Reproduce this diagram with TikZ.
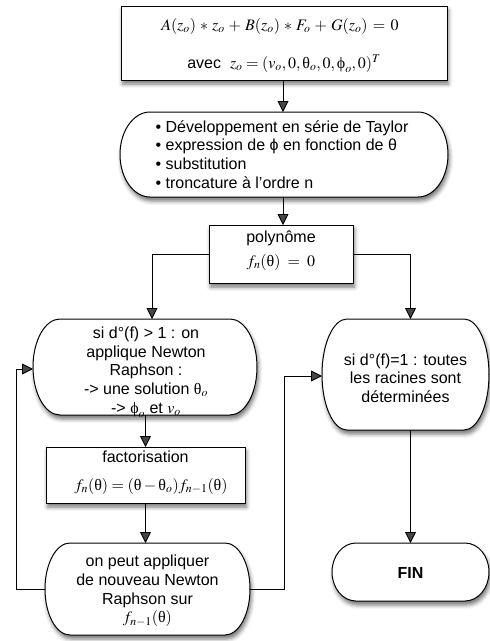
\documentclass[tikz,border=0pt]{standalone}
\usepackage{mathptmx}
\usepackage[no-math]{fontspec}
\setmainfont{Liberation Sans}
\newfontfamily\grk{Liberation Serif}
\usetikzlibrary{arrows.meta,shadows.blur,calc}
\newcommand\gth{\mathord{\hbox{\grk θ}}}
\newcommand\gph{\mathord{\hbox{\grk ϕ}}}
\newcommand\stadium[6]{%
  \path[shp] (#1+#5,#2) -- (#3-#5,#2)
    arc[start angle=90,end angle=-90,x radius=#5pt,y radius=#6pt]
    -- (#1+#5,#4)
    arc[start angle=270,end angle=90,x radius=#5pt,y radius=#6pt] -- cycle;}
\begin{document}
\begin{tikzpicture}[x=1pt,y=-1pt,
  shp/.style={draw=black, line width=1pt, fill=white,
    blur shadow={shadow xshift=1.5pt, shadow yshift=-4pt, shadow blur radius=4pt, shadow opacity=55}},
  lbl/.style={font=\fontsize{16}{18.7}\selectfont, align=center, inner sep=0pt, outer sep=0pt},
  bl/.style={lbl, anchor=base},
  area/.style={inner sep=0pt, outer sep=0pt},
  arr/.style={-{Triangle[length=11pt,width=11pt]}, line width=0.9pt}]
\useasboundingbox (0,0) rectangle (490,641);

% top box
\node[shp, area, minimum width=326pt, minimum height=74pt] (top) at (284,43) {};
\node[bl] (topA) at (280,30) {$A(z_o)\,*\,z_o\,+\,B(z_o)\,*\,F_o\,+\,G(z_o)\,=\,0$};
\node[bl] (topB) at (284,68) {avec~~$z_o=(v_o,0,\gth_o,0,\gph_o,0)^T$};

% development
\stadium{120}{112}{448}{197}{30}{42.5}
\node[area, minimum width=328pt, minimum height=85pt] (dev) at (284,154.5) {};
\node[lbl, align=left] (devt) at (282,154.5)
  {\textbullet\ Développement en série de Taylor\\
   \textbullet\ expression de ϕ en fonction de θ\\
   \textbullet\ substitution\\
   \textbullet\ troncature à l'ordre n};

% polynome
\node[shp, area, minimum width=144pt, minimum height=58pt] (poly) at (281,254) {};
\node[bl] (polyA) at (281,242) {polynôme};
\node[bl] (polyB) at (281,266) {$f_n(\gth)\;=\;0$};

% left node
\stadium{33}{319}{257}{415}{27}{48}
\node[area, minimum width=224pt, minimum height=96pt] (left) at (145,367) {};
\node[lbl] (leftt) at (146,372)
  {si d°(f) > 1 : on\\applique Newton\\Raphson :\\-> une solution $\gth_o$\\-> $\gph_o$ et $v_o$};

% right node
\stadium{322}{319}{489}{430}{25}{55.5}
\node[area, minimum width=167pt, minimum height=111pt] (right) at (405.5,374.5) {};
\node[lbl] (rightt) at (405.5,378) {si d°(f)=1 : toutes\\les racines sont\\déterminées};

% factorisation
\node[shp, area, minimum width=199pt, minimum height=56pt] (fact) at (145.5,475) {};
\node[bl] (factA) at (145.5,462) {factorisation};
\node[bl] (factB) at (151,490) {$f_n(\gth)=(\gth-\gth_o)f_{n-1}(\gth)$};

% bottom-left
\stadium{45}{543}{250}{635}{25}{46}
\node[area, minimum width=205pt, minimum height=92pt] (blo) at (147.5,589) {};
\node[lbl] (blot) at (147.5,591) {on peut appliquer\\de nouveau Newton\\Raphson sur\\$f_{n-1}(\gth)$};

% FIN
\stadium{332}{543}{489}{601}{24}{29}
\node[area, minimum width=157pt, minimum height=58pt] (fin) at (410.5,572) {};
\node[lbl] (fint) at (410.5,573) {\textbf{FIN}};

% connectors
\draw[arr] (top.south -| 283,0) -- (dev.north -| 283,0);
\draw[arr] (dev.south -| 283,0) -- (poly.north -| 283,0);
\draw[arr] (poly.west) -| ([xshift=7pt]left.north);
\draw[arr] (poly.east) -| (right.north -| fin.north);
\draw[arr] (fact.north |- left.south) -- (fact.north);
\draw[arr] (fact.south) -- (fact.south |- blo.north);
\draw[arr] (blo.west) -| ([xshift=-17pt,yshift=-2pt]left.west) -- ([yshift=-2pt]left.west);
\draw[arr] (blo.east) -| ([xshift=-38pt,yshift=-1.5pt]right.west) -- ([yshift=-1.5pt]right.west);
\draw[arr] (right.south -| fin.north) -- (fin.north);
\end{tikzpicture}
\end{document}
